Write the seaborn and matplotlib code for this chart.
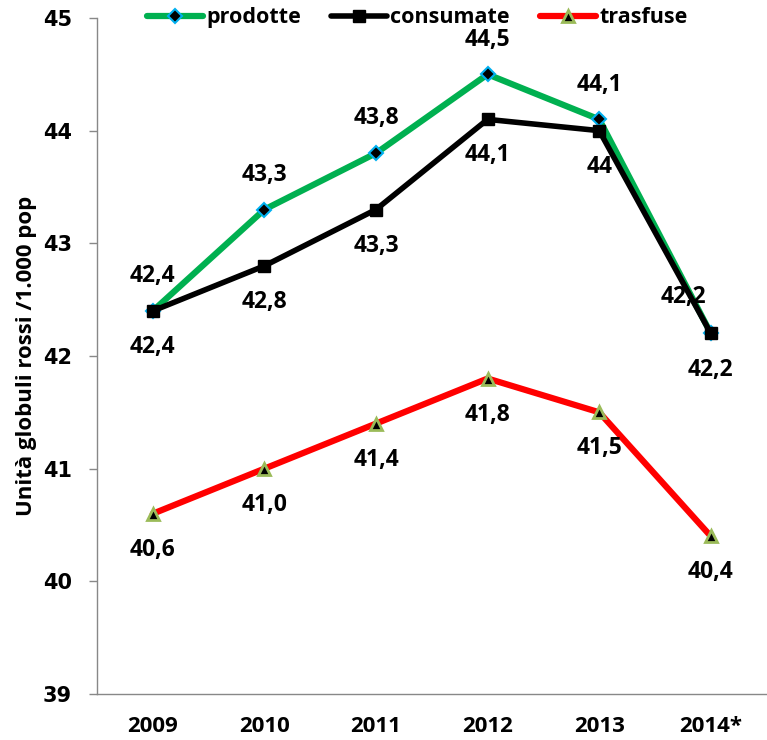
import matplotlib
matplotlib.use("Agg")
import matplotlib.pyplot as plt
import seaborn as sns
import pandas as pd

years = ["2009", "2010", "2011", "2012", "2013", "2014*"]
prodotte = [42.4, 43.3, 43.8, 44.5, 44.1, 42.2]
consumate = [42.4, 42.8, 43.3, 44.1, 44.0, 42.2]
trasfuse = [40.6, 41.0, 41.4, 41.8, 41.5, 40.4]
lab_prodotte = ["42,4", "43,3", "43,8", "44,5", "44,1", "42,2"]
lab_consumate = ["42,4", "42,8", "43,3", "44,1", "44", "42,2"]
lab_trasfuse = ["40,6", "41,0", "41,4", "41,8", "41,5", "40,4"]

sns.set_theme(style="white")
plt.rcParams["font.family"] = ["Open Sans", "DejaVu Sans"]
plt.rcParams["text.color"] = "black"
plt.rcParams["axes.labelcolor"] = "black"
plt.rcParams["xtick.labelcolor"] = "black"
plt.rcParams["ytick.labelcolor"] = "black"

fig = plt.figure(figsize=(7.67, 7.40), dpi=100)
ax = fig.add_axes([0.1265, 0.0622, 0.873, 0.9135])

x = list(range(len(years)))
df = pd.DataFrame({"x": x * 3,
                   "v": prodotte + consumate + trasfuse,
                   "s": ["prodotte"] * 6 + ["consumate"] * 6 + ["trasfuse"] * 6})

styles = {
    "prodotte": dict(color="#00B050", marker="D", ms=7, mfc="black", mec="#00B0F0", mew=1.5, lw=4.5),
    "consumate": dict(color="black", marker="s", ms=9, mfc="black", mec="black", mew=1, lw=4),
    "trasfuse": dict(color="#FF0000", marker="^", ms=9, mfc="black", mec="#9BBB59", mew=2, lw=4.5),
}
for name in ["prodotte", "consumate", "trasfuse"]:
    st = styles[name]
    sub = df[df.s == name]
    sns.lineplot(data=sub, x="x", y="v", ax=ax, color=st["color"], lw=st["lw"],
                 marker=st["marker"], markersize=st["ms"], markerfacecolor=st["mfc"],
                 markeredgecolor=st["mec"], markeredgewidth=st["mew"], label=name,
                 solid_capstyle="round")

fs = 16.5
for i in x:
    if i == 5:
        ax.annotate(lab_prodotte[i], (i, prodotte[i]), xytext=(-20, 26), textcoords="offset points",
                    ha="center", va="center", fontsize=fs, fontweight="bold", color="black")
    else:
        ax.annotate(lab_prodotte[i], (i, prodotte[i]), xytext=(0, 25), textcoords="offset points",
                    ha="center", va="center", fontsize=fs, fontweight="bold", color="black")
    ax.annotate(lab_consumate[i], (i, consumate[i]), xytext=(0, -26), textcoords="offset points",
                ha="center", va="center", fontsize=fs, fontweight="bold", color="black")
    ax.annotate(lab_trasfuse[i], (i, trasfuse[i]), xytext=(0, -26), textcoords="offset points",
                ha="center", va="center", fontsize=fs, fontweight="bold", color="black")

ax.set_xlim(-0.5, 5.5)
ax.set_ylim(39, 45)
ax.set_yticks([39, 40, 41, 42, 43, 44, 45])
ax.set_yticklabels(["39", "40", "41", "42", "43", "44", "45"], fontsize=15, fontweight="bold",
                   family=["DejaVu Sans"])
ax.set_xticks(x)
ax.set_xticklabels(years, fontsize=16, fontweight="bold")
ax.set_xticks([i - 0.5 for i in range(7)], minor=True)
ax.tick_params(axis="x", which="major", length=0, pad=16)
ax.tick_params(axis="x", which="minor", length=5, color="#888888", width=1, direction="out")
ax.tick_params(axis="y", length=6, color="#888888", width=1, direction="out", pad=12, left=True)
ax.set_xlabel("")
ax.set_ylabel("Unità globuli rossi /1.000 pop", fontsize=16, fontweight="bold", labelpad=8,
              color="black")
for s in ["top", "right"]:
    ax.spines[s].set_visible(False)
for s in ["left", "bottom"]:
    ax.spines[s].set_color("#888888")
    ax.spines[s].set_linewidth(1)

leg = ax.legend(loc="center", bbox_to_anchor=(0.478, 1.0), ncol=3, frameon=False,
                prop={"size": 15.5, "weight": "bold"}, handlelength=2.6, columnspacing=1.4,
                handletextpad=0.15, labelcolor="black")
ax.yaxis.set_label_coords(-0.09, 0.5)

fig.savefig("out.png", dpi=100)
